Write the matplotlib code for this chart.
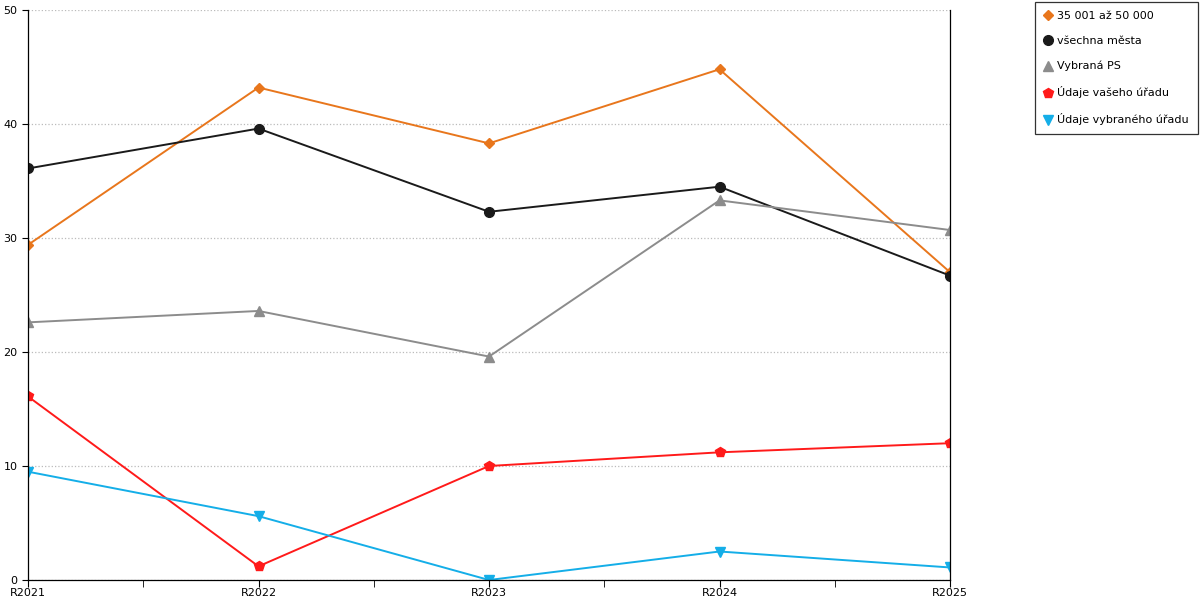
import matplotlib

matplotlib.use("Agg")

import matplotlib.pyplot as plt

years = ["R2021", "R2022", "R2023", "R2024", "R2025"]
mesta_35_50 = [29.4, 43.2, 38.3, 44.8, 27.0]
vsechna_mesta = [36.1, 39.6, 32.3, 34.5, 26.7]
vybrana_ps = [22.6, 23.6, 19.6, 33.3, 30.7]
vas_urad = [16.1, 1.2, 10.0, 11.2, 12.0]
vybrany_urad = [9.5, 5.6, 0.0, 2.5, 1.1]

series = [
    ("35 001 až 50 000", mesta_35_50, "#e8761c", "D", 5),
    ("všechna města", vsechna_mesta, "#1a1a1a", "o", 7),
    ("Vybraná PS", vybrana_ps, "#8c8c8c", "^", 7),
    ("Údaje vašeho úřadu", vas_urad, "#ff1a1a", "p", 7),
    ("Údaje vybraného úřadu", vybrany_urad, "#14aee8", "v", 7),
]

plt.rcParams["font.family"] = "DejaVu Sans"
fig = plt.figure(figsize=(12, 6), dpi=100)
ax = fig.add_axes([28 / 1200, 20 / 600, 922 / 1200, 570 / 600])

x = list(range(len(years)))
for label, values, color, marker, size in series:
    ax.plot(x, values, color=color, marker=marker, markersize=size, linewidth=1.4, label=label)

ax.set_xlim(0, len(years) - 1)
ax.set_ylim(0, 50)
ax.set_xticks(x)
ax.set_xticklabels(years, fontsize=8)
ax.set_xticks([i + 0.5 for i in x[:-1]], minor=True)
ax.set_yticks(range(0, 51, 10))
ax.tick_params(axis="y", labelsize=8, length=4)
ax.tick_params(axis="x", which="both", length=5, pad=1)
ax.grid(axis="y", linestyle=":", color="#bbbbbb", linewidth=0.9)
ax.spines["top"].set_visible(False)
for s in ["left", "right", "bottom"]:
    ax.spines[s].set_color("black")
    ax.spines[s].set_linewidth(0.9)

leg = fig.legend(loc="upper left", bbox_to_anchor=(1035 / 1200, 1 - 2 / 600), fontsize=8,
                 frameon=True, fancybox=False, edgecolor="black", handlelength=0.7,
                 labelspacing=1.35, borderpad=0.8, handletextpad=0.5, borderaxespad=0)
leg.get_frame().set_linewidth(0.9)
for line in leg.get_lines():
    line.set_linestyle("none")

fig.savefig("out.png", dpi=100)
plt.close(fig)
